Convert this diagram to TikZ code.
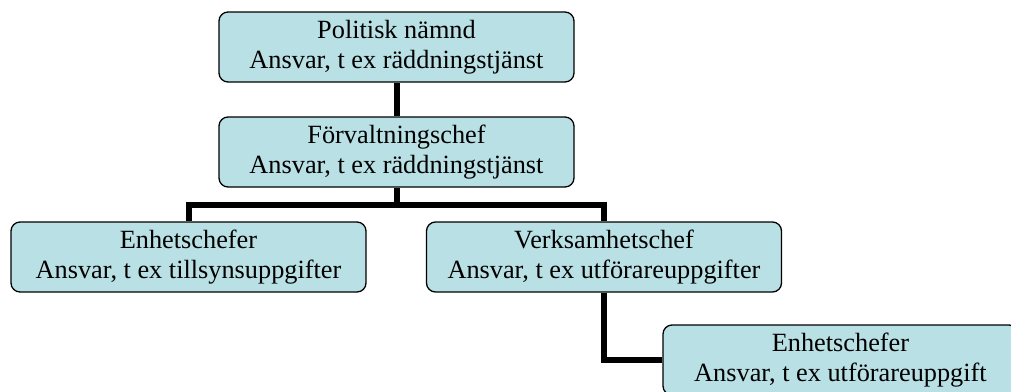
\documentclass[tikz,border=0pt]{standalone}
\usepackage{fontspec}
\setmainfont{Liberation Serif}
\usetikzlibrary{backgrounds}
\definecolor{boxfill}{HTML}{B9E0E4}
\begin{document}
\begin{tikzpicture}[x=1pt,y=-1pt,
  orgbox/.style={draw=black, line width=1.3pt, fill=boxfill, rounded corners=9pt,
    minimum width=355pt, minimum height=70pt, inner sep=0pt, align=center,
    font=\fontsize{26.3}{30}\selectfont},
  link/.style={line width=6pt}]
\useasboundingbox (0,0) rectangle (1011,391);
\clip (0,0) rectangle (1011,391);
\node[orgbox] (pn) at (396.5,47) {Politisk nämnd\\Ansvar, t ex räddningstjänst};
\node[orgbox] (fc) at (396.5,152) {Förvaltningschef\\Ansvar, t ex räddningstjänst};
\node[orgbox] (eh) at (188.5,257) {Enhetschefer\\Ansvar, t ex tillsynsuppgifter};
\node[orgbox] (vc) at (604,257) {Verksamhetschef\\Ansvar, t ex utförareuppgifter};
\node[orgbox] (eu) at (840.5,360) {Enhetschefer\\Ansvar, t ex utförareuppgift};
\coordinate (split) at (396.5,205);
\begin{scope}[on background layer]
\draw[link] (pn) -- (fc);
\draw[link] (fc) -- (split);
\draw[link] (split) -| (eh);
\draw[link] (split) -| (vc);
\draw[link] (vc) |- (eu);
\end{scope}
\end{tikzpicture}
\end{document}
